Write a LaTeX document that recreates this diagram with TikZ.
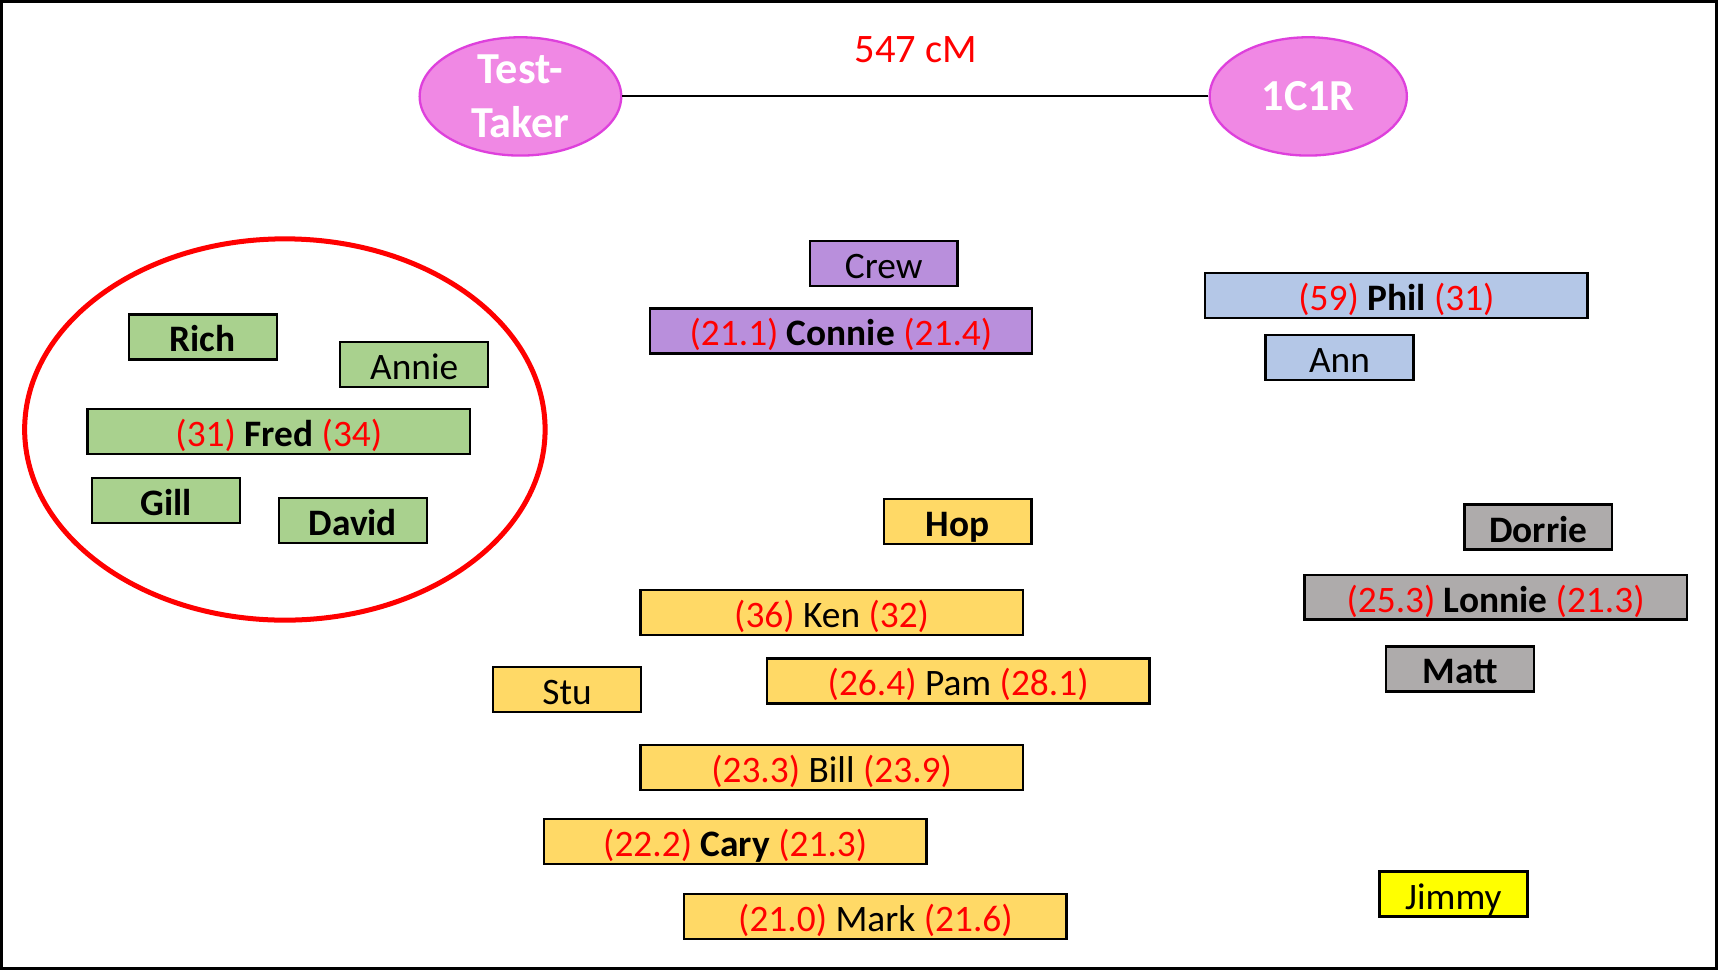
\documentclass[tikz,border=0pt]{standalone}
\usepackage{fontspec}
\setmainfont{Carlito}
\usepackage{xcolor}
\usetikzlibrary{shapes.geometric}

\definecolor{kinpink}{RGB}{240,136,228}
\definecolor{kinpinkline}{RGB}{222,64,220}
\definecolor{kingreen}{RGB}{169,209,142}
\definecolor{kinpurple}{RGB}{185,143,220}
\definecolor{kinblue}{RGB}{180,199,231}
\definecolor{kinyellow}{RGB}{255,217,102}
\definecolor{kingrey}{RGB}{174,171,171}
\definecolor{kinlemon}{RGB}{255,255,0}

\newcommand{\sharedcm}[1]{\textcolor{red}{#1}}

\begin{document}
\begin{tikzpicture}[
	person/.style={draw, line width=0.6pt, minimum width=1.35cm, minimum height=0.41cm, inner sep=0pt, text height=0.78em, text depth=0em, font=\fontsize{9.7}{11}\selectfont},
	longperson/.style={person, minimum width=3.49cm},
	match/.style={ellipse, draw=kinpinkline, fill=kinpink, line width=0.6pt, inner sep=0pt, text=white, align=center, font=\fontsize{11.5}{13.9}\selectfont\bfseries}
]
	\useasboundingbox (0,0) rectangle (15.68,8.85);
	\draw[line width=0.8pt] (0.014,0.014) rectangle (15.666,8.836);

	% top pair
	\node[match, minimum width=1.84cm, minimum height=1.08cm] (tester) at (4.75,7.97) {Test-\\Taker};
	\node[match, minimum width=1.80cm, minimum height=1.08cm] (cousin) at (11.94,7.97) {1C1R};
	\draw[line width=0.5pt] (tester) -- (cousin);
	\node[text=red, font=\fontsize{10.5}{12}\selectfont] (total) at (8.36,8.40) {547 cM};

	% green group
	\draw[red, line width=1.3pt] (2.60,4.93) ellipse (2.375cm and 1.74cm);
	\node[person, fill=kingreen] (rich) at (1.85,5.775) {\textbf{Rich}};
	\node[person, fill=kingreen] (annie) at (3.78,5.525) {Annie};
	\node[longperson, fill=kingreen] (fred) at (2.545,4.91) {\sharedcm{(31)} \textbf{Fred} \sharedcm{(34)}};
	\node[person, fill=kingreen] (gill) at (1.515,4.28) {\textbf{Gill}};
	\node[person, fill=kingreen] (david) at (3.22,4.10) {\textbf{David}};

	% purple group
	\node[person, fill=kinpurple] (crew) at (8.065,6.445) {Crew};
	\node[longperson, fill=kinpurple] (connie) at (7.675,5.83) {\sharedcm{(21.1)} \textbf{Connie} \sharedcm{(21.4)}};

	% blue group
	\node[longperson, fill=kinblue] (phil) at (12.745,6.155) {\sharedcm{(59)} \textbf{Phil} \sharedcm{(31)}};
	\node[person, fill=kinblue] (ann) at (12.225,5.585) {Ann};

	% yellow group
	\node[person, fill=kinyellow] (hop) at (8.74,4.09) {\textbf{Hop}};
	\node[longperson, fill=kinyellow] (ken) at (7.59,3.26) {\sharedcm{(36)} Ken \sharedcm{(32)}};
	\node[person, fill=kinyellow] (stu) at (5.175,2.555) {Stu};
	\node[longperson, fill=kinyellow] (pam) at (8.745,2.635) {\sharedcm{(26.4)} Pam \sharedcm{(28.1)}};
	\node[longperson, fill=kinyellow] (bill) at (7.59,1.845) {\sharedcm{(23.3)} Bill \sharedcm{(23.9)}};
	\node[longperson, fill=kinyellow] (cary) at (6.71,1.17) {\sharedcm{(22.2)} \textbf{Cary} \sharedcm{(21.3)}};
	\node[longperson, fill=kinyellow] (mark) at (7.99,0.485) {\sharedcm{(21.0)} Mark \sharedcm{(21.6)}};

	% grey group
	\node[person, fill=kingrey] (dorrie) at (14.04,4.04) {\textbf{Dorrie}};
	\node[longperson, fill=kingrey] (lonnie) at (13.65,3.40) {\sharedcm{(25.3)} \textbf{Lonnie} \sharedcm{(21.3)}};
	\node[person, fill=kingrey] (matt) at (13.325,2.745) {\textbf{Matt}};

	\node[person, fill=kinlemon] (jimmy) at (13.265,0.69) {Jimmy};
\end{tikzpicture}
\end{document}
